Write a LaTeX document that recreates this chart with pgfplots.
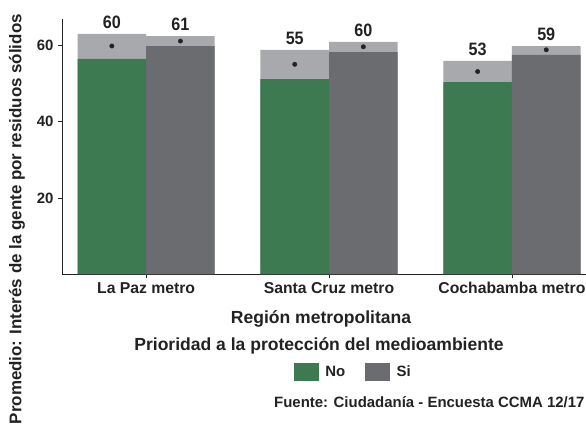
\documentclass[border=0pt]{standalone}
\usepackage{pgfplots}
\pgfplotsset{compat=1.18}
\usepackage{pgfplotstable}
\usepackage{fontspec}
\setmainfont{Liberation Sans}
\newfontfamily\condfont{Liberation Sans}[FakeStretch=0.9]
\definecolor{ink}{HTML}{222222}
\definecolor{sgreen}{HTML}{3D7A51}
\definecolor{sgray}{HTML}{6B6C70}
\definecolor{cigray}{HTML}{A8A9AC}
\newcommand{\ff}[1]{\fontsize{#1}{#1}\selectfont\bfseries}

% x, lower and upper end of the band, mean, printed value
\pgfplotstableread{
x lo hi mean lab
-0.1875 56.5 63.1 59.9 60
0.8125 51.2 58.9 55.1 55
1.8125 50.4 56.0 53.2 53
}\nodata
\pgfplotstableread{
x lo hi mean lab
0.1875 59.9 62.5 61.2 61
1.1875 58.3 61.0 59.7 60
2.1875 57.6 59.9 58.9 59
}\sidata

\begin{document}
\begin{tikzpicture}[x=1bp,y=1bp]
\useasboundingbox (0,0) rectangle (586,429);
\begin{axis}[at={(62bp,155bp)}, anchor=south west, scale only axis,
  width=524bp, height=255bp,
  xmin=-0.46, xmax=2.405, ymin=0, ymax=67,
  axis lines*=left, axis line style={ink, line width=0.9pt},
  ytick={20,40,60}, xtick={0,1,2},
  xticklabels={La Paz metro, Santa Cruz metro, Cochabamba metro},
  tick align=outside, major tick length=4bp, tick style={ink, line width=0.6pt},
  /pgf/number format/assume math mode=true,
  tick label style={text=ink},
  yticklabel style={font=\ff{15}, xshift=-1bp},
  xticklabel style={font=\ff{15.8}, yshift=-1bp},
  legend style={at={(0.556,-0.384)}, anchor=center, draw=none, fill=none,
    font=\ff{15}, text=ink, legend columns=2,
    /tikz/every odd column/.append style={column sep=5bp},
    /tikz/every even column/.append style={column sep=18bp}},
  legend image code/.code={\fill[#1] (0bp,-8.5bp) rectangle (24bp,8.5bp);},
  clip=false,
]
\addplot[ybar, bar width=0.375, fill=cigray, draw=none, forget plot,
  nodes near coords, point meta=explicit symbolic,
  every node near coord/.append style={font=\condfont\ff{18}, text=ink, inner sep=0pt, yshift=5bp}]
  table[x=x, y=hi, meta=lab] {\nodata};
\addplot[ybar, bar width=0.375, fill=cigray, draw=none, forget plot,
  nodes near coords, point meta=explicit symbolic,
  every node near coord/.append style={font=\condfont\ff{18}, text=ink, inner sep=0pt, yshift=5bp}]
  table[x=x, y=hi, meta=lab] {\sidata};
\addplot[ybar, bar width=0.375, fill=sgreen, draw=none, forget plot] table[x=x, y=lo] {\nodata};
\addplot[ybar, bar width=0.375, fill=sgray, draw=none, forget plot] table[x=x, y=lo] {\sidata};
\addplot[only marks, mark=*, mark size=2.2bp, ink, forget plot] table[x=x, y=mean] {\nodata};
\addplot[only marks, mark=*, mark size=2.2bp, ink, forget plot] table[x=x, y=mean] {\sidata};
\addlegendimage{sgreen}
\addlegendentry{No}
\addlegendimage{sgray}
\addlegendentry{Si}
\end{axis}
\node[font=\ff{17.6}, text=ink] at (321,110) {Región metropolitana};
\node[font=\ff{17.6}, text=ink] at (319,83) {Prioridad a la protección del medioambiente};
\node[font=\ff{15}, text=ink, anchor=west, inner sep=0pt] at (274,27) {Fuente: Ciudadanía - Encuesta CCMA 12/17};
\node[font=\ff{17}, text=ink, rotate=90, anchor=east, inner sep=0pt] at (17,415) {Promedio: Interés de la gente por residuos sólidos};
\end{tikzpicture}
\end{document}
